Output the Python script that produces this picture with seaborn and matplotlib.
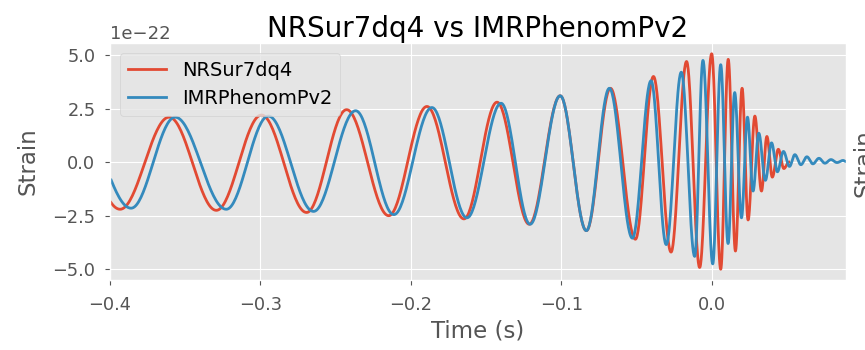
import numpy as np
import pandas as pd
import matplotlib
matplotlib.use("Agg")
import matplotlib.pyplot as plt
import seaborn as sns
from matplotlib.ticker import MultipleLocator

# --- data: extrema of each waveform (time in s, strain in 1e-22) ---
nrsur_time = [-0.428, -0.3933, -0.3607, -0.3293, -0.2993, -0.2693, -0.2427, -0.2147,
              -0.1893, -0.1647, -0.1427, -0.1213, -0.1007, -0.0833, -0.0673, -0.0507,
              -0.0387, -0.027, -0.0167, -0.008, 0.0, 0.006, 0.011, 0.0158, 0.0202,
              0.0242, 0.0287, 0.0331, 0.0367, 0.0403, 0.0443, 0.048, 0.0513]
nrsur_strain = [2.1, -2.2, 2.1, -2.25, 2.2, -2.35, 2.45, -2.5, 2.6, -2.65, 2.8, -2.9,
                3.1, -3.2, 3.45, -3.6, 4.0, -4.2, 4.7, -4.92, 5.06, -5.0, 4.8, -4.15,
                3.45, -2.7, 2.15, -1.35, 1.2, -0.7, 0.6, -0.3, 0.0]

imr_time = [-0.4213, -0.386, -0.3567, -0.3227, -0.2947, -0.2647, -0.2367, -0.2113,
            -0.186, -0.1627, -0.14, -0.1207, -0.1007, -0.0833, -0.068, -0.0527,
            -0.0403, -0.0302, -0.0202, -0.0113, -0.0058, 0.0007, 0.006, 0.0109,
            0.0153, 0.0198, 0.0238, 0.0275, 0.0313, 0.0357, 0.0398, 0.0437, 0.0477,
            0.0517, 0.0553, 0.0593, 0.0633, 0.0673, 0.0713, 0.0753, 0.0793, 0.0833,
            0.0873, 0.0893]
imr_strain = [2.1, -2.15, 2.1, -2.2, 2.15, -2.3, 2.4, -2.45, 2.55, -2.6, 2.75, -2.9,
              3.1, -3.2, 3.45, -3.55, 3.8, -3.85, 4.2, -4.4, 4.75, -4.75, 4.55, -3.8,
              3.25, -2.6, 2.1, -1.35, 1.35, -0.85, 0.9, -0.45, 0.5, -0.2, 0.35, -0.12,
              0.25, -0.08, 0.18, -0.05, 0.12, -0.02, 0.08, 0.03]

series_names = ["NRSur7dq4", "IMRPhenomPv2"]
scale = 1e-22


def trace(ts, hs, n=40):
    """Smooth half-cycle shape between consecutive extrema."""
    tt, hh = [], []
    for i in range(len(ts) - 1):
        t0, t1, a0, a1 = ts[i], ts[i + 1], hs[i], hs[i + 1]
        s = np.linspace(0, 1, n, endpoint=False)
        tt.append(t0 + (t1 - t0) * s)
        hh.append((a0 + a1) / 2 + (a0 - a1) / 2 * np.cos(np.pi * s))
    tt.append([ts[-1]])
    hh.append([hs[-1]])
    return np.concatenate(tt), np.concatenate(hh)


frames = []
for name, ts, hs in [(series_names[0], nrsur_time, nrsur_strain),
                     (series_names[1], imr_time, imr_strain)]:
    t, h = trace(ts, hs)
    keep = t >= -0.4
    frames.append(pd.DataFrame({"Time (s)": t[keep], "Strain": h[keep] * scale, "model": name}))
df = pd.concat(frames, ignore_index=True)

plt.style.use("ggplot")
fig = plt.figure(figsize=(8.65, 3.5), dpi=100)
ax = fig.add_axes([110 / 865, 70 / 350, 736 / 865, 237 / 350])

sns.lineplot(data=df, x="Time (s)", y="Strain", hue="model", hue_order=series_names,
             palette={"NRSur7dq4": "#E24A33", "IMRPhenomPv2": "#348ABD"},
             estimator=None, sort=False, linewidth=2.0, ax=ax)

ax.set_xlim(-0.4, 0.0893)
ax.set_ylim(-5.503e-22, 5.563e-22)
ax.xaxis.set_major_locator(MultipleLocator(0.1))
ax.yaxis.set_major_locator(MultipleLocator(2.5e-22))
ax.tick_params(labelsize=12.8, colors="#555555")
ax.tick_params(axis="x", pad=8)
ax.tick_params(axis="y", pad=7)
ax.yaxis.get_offset_text().set_fontsize(13)
ax.set_xlabel("Time (s)", fontsize=16.5, color="#555555")
ax.set_ylabel("Strain", fontsize=16.5, color="#555555", labelpad=9)
ax.set_title("NRSur7dq4 vs IMRPhenomPv2", fontsize=20, pad=4)

leg = ax.legend(loc="upper left", fontsize=14, handlelength=2.0)

fig.text(852 / 865, 0.534, "Strain", rotation=90, ha="left", va="center",
         fontsize=16.5, color="#555555")

fig.savefig("out.png", dpi=100)
